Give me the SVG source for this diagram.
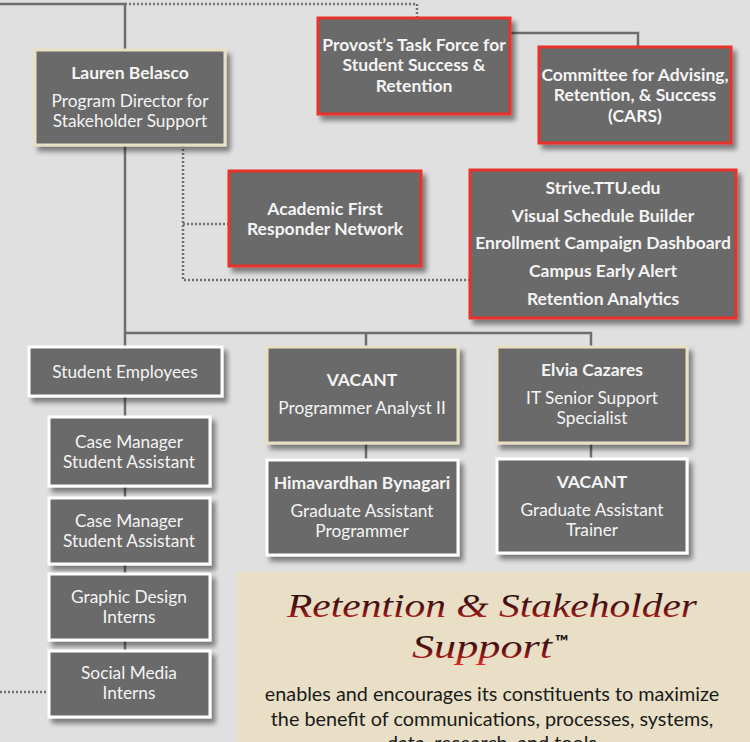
<svg xmlns="http://www.w3.org/2000/svg" width="750" height="742" viewBox="0 0 750 742">
<defs>
<filter id="sh" x="-10%" y="-10%" width="130%" height="140%">
<feDropShadow dx="4" dy="5" stdDeviation="2.5" flood-color="#000" flood-opacity="0.45"/>
</filter>
<linearGradient id="tg" x1="0" y1="0" x2="0" y2="1">
<stop offset="0" stop-color="#111"/>
<stop offset="0.55" stop-color="#5a0f10"/>
<stop offset="1" stop-color="#e02a22"/>
</linearGradient>
</defs>
<style>
.box{fill:#6b6b6b;filter:url(#sh)}
.red{stroke:#e8302a;stroke-width:3}
.beige{stroke:#e9dfc4;stroke-width:3}
.white{stroke:#ffffff;stroke-width:3}
text{font-family:Lato,"Liberation Sans",sans-serif;fill:#f4f4f4;text-anchor:middle}
.b{font-weight:bold;font-size:17.5px}
.r{font-size:17.3px}
.solid{stroke:#6e6e6e;stroke-width:2.5;fill:none}
.dot{stroke:#707070;stroke-width:2.5;fill:none;stroke-dasharray:2 2}
.body{fill:#1a1a1a;font-size:19.8px}
.script{font-family:"Liberation Serif",serif;font-style:italic;font-size:34px;fill:url(#tg)}
</style>
<rect width="750" height="742" fill="#e0e0e0"/>
<g id="connectors">
<path class="solid" d="M0 4H125V347"/>
<path class="solid" d="M125 333H591V347"/>
<path class="solid" d="M366 333V347"/>
<path class="solid" d="M366 443V460"/>
<path class="solid" d="M591 443V459"/>
<path class="solid" d="M125 396V417M125 486V498M125 564V574M125 640V651"/>
<path class="solid" d="M510 33H638V47"/>
<path class="dot" d="M125 4H417V18"/>
<path class="dot" d="M183 145V280H470"/>
<path class="dot" d="M183 224H229"/>
<path class="dot" d="M0 692H48"/>
</g>
<g id="lauren">
<rect class="box beige" x="35" y="50" width="190" height="95"/>
<text class="b" x="130" y="79">Lauren Belasco</text>
<text class="r" x="130" y="107">Program Director for</text>
<text class="r" x="130" y="127">Stakeholder Support</text>
</g>
<g id="provost">
<rect class="box red" x="318" y="18" width="192" height="96"/>
<text class="b" x="414" y="51">Provost’s Task Force for</text>
<text class="b" x="414" y="71">Student Success &amp;</text>
<text class="b" x="414" y="92">Retention</text>
</g>
<g id="cars">
<rect class="box red" x="539" y="47" width="192" height="96"/>
<text class="b" x="635" y="81">Committee for Advising,</text>
<text class="b" x="635" y="101">Retention, &amp; Success</text>
<text class="b" x="635" y="122">(CARS)</text>
</g>
<g id="afrn">
<rect class="box red" x="229" y="171" width="192" height="95"/>
<text class="b" x="325" y="215">Academic First</text>
<text class="b" x="325" y="235">Responder Network</text>
</g>
<g id="tools">
<rect class="box red" x="470" y="170" width="266" height="148"/>
<text class="b" x="603" y="194">Strive.TTU.edu</text>
<text class="b" x="603" y="222">Visual Schedule Builder</text>
<text class="b" x="603" y="249">Enrollment Campaign Dashboard</text>
<text class="b" x="603" y="277">Campus Early Alert</text>
<text class="b" x="603" y="305">Retention Analytics</text>
</g>
<g id="student-employees">
<rect class="box white" x="29" y="347" width="193" height="49"/>
<text class="r" x="125" y="378">Student Employees</text>
</g>
<g id="case-manager-1">
<rect class="box white" x="49" y="417" width="161" height="69"/>
<text class="r" x="129" y="448">Case Manager</text>
<text class="r" x="129" y="468">Student Assistant</text>
</g>
<g id="case-manager-2">
<rect class="box white" x="49" y="498" width="161" height="66"/>
<text class="r" x="129" y="527">Case Manager</text>
<text class="r" x="129" y="547">Student Assistant</text>
</g>
<g id="graphic-design">
<rect class="box white" x="49" y="574" width="161" height="66"/>
<text class="r" x="129" y="603">Graphic Design</text>
<text class="r" x="129" y="623">Interns</text>
</g>
<g id="social-media">
<rect class="box white" x="49" y="651" width="161" height="66"/>
<text class="r" x="129" y="679">Social Media</text>
<text class="r" x="129" y="699">Interns</text>
</g>
<g id="vacant-programmer">
<rect class="box beige" x="267" y="347" width="191" height="96"/>
<text class="b" x="362" y="386">VACANT</text>
<text class="r" x="362" y="414">Programmer  Analyst II</text>
</g>
<g id="himavardhan">
<rect class="box white" x="267" y="460" width="191" height="95"/>
<text class="b" x="362" y="489">Himavardhan Bynagari</text>
<text class="r" x="362" y="517">Graduate Assistant</text>
<text class="r" x="362" y="537">Programmer</text>
</g>
<g id="elvia">
<rect class="box beige" x="497" y="347" width="190" height="96"/>
<text class="b" x="592" y="376">Elvia Cazares</text>
<text class="r" x="592" y="404">IT Senior Support</text>
<text class="r" x="592" y="424">Specialist</text>
</g>
<g id="vacant-trainer">
<rect class="box white" x="497" y="459" width="190" height="94"/>
<text class="b" x="592" y="488">VACANT</text>
<text class="r" x="592" y="516">Graduate Assistant</text>
<text class="r" x="592" y="536">Trainer</text>
</g>
<g id="mission">
<rect x="237" y="572" width="513" height="170" fill="#e8dfc6"/>
<text class="script" x="492" y="617" textLength="410" lengthAdjust="spacingAndGlyphs">Retention &amp; Stakeholder</text>
<text class="script" x="482" y="658" textLength="140" lengthAdjust="spacingAndGlyphs">Support</text>
<text x="555" y="648" style="font-weight:bold;font-size:18px;fill:#111;text-anchor:start">™</text>
<text class="body" x="492" y="701">enables and encourages its constituents to maximize</text>
<text class="body" x="492" y="726">the benefit of communications, processes, systems,</text>
<text class="body" x="492" y="750">data, research, and tools</text>
</g>
</svg>
